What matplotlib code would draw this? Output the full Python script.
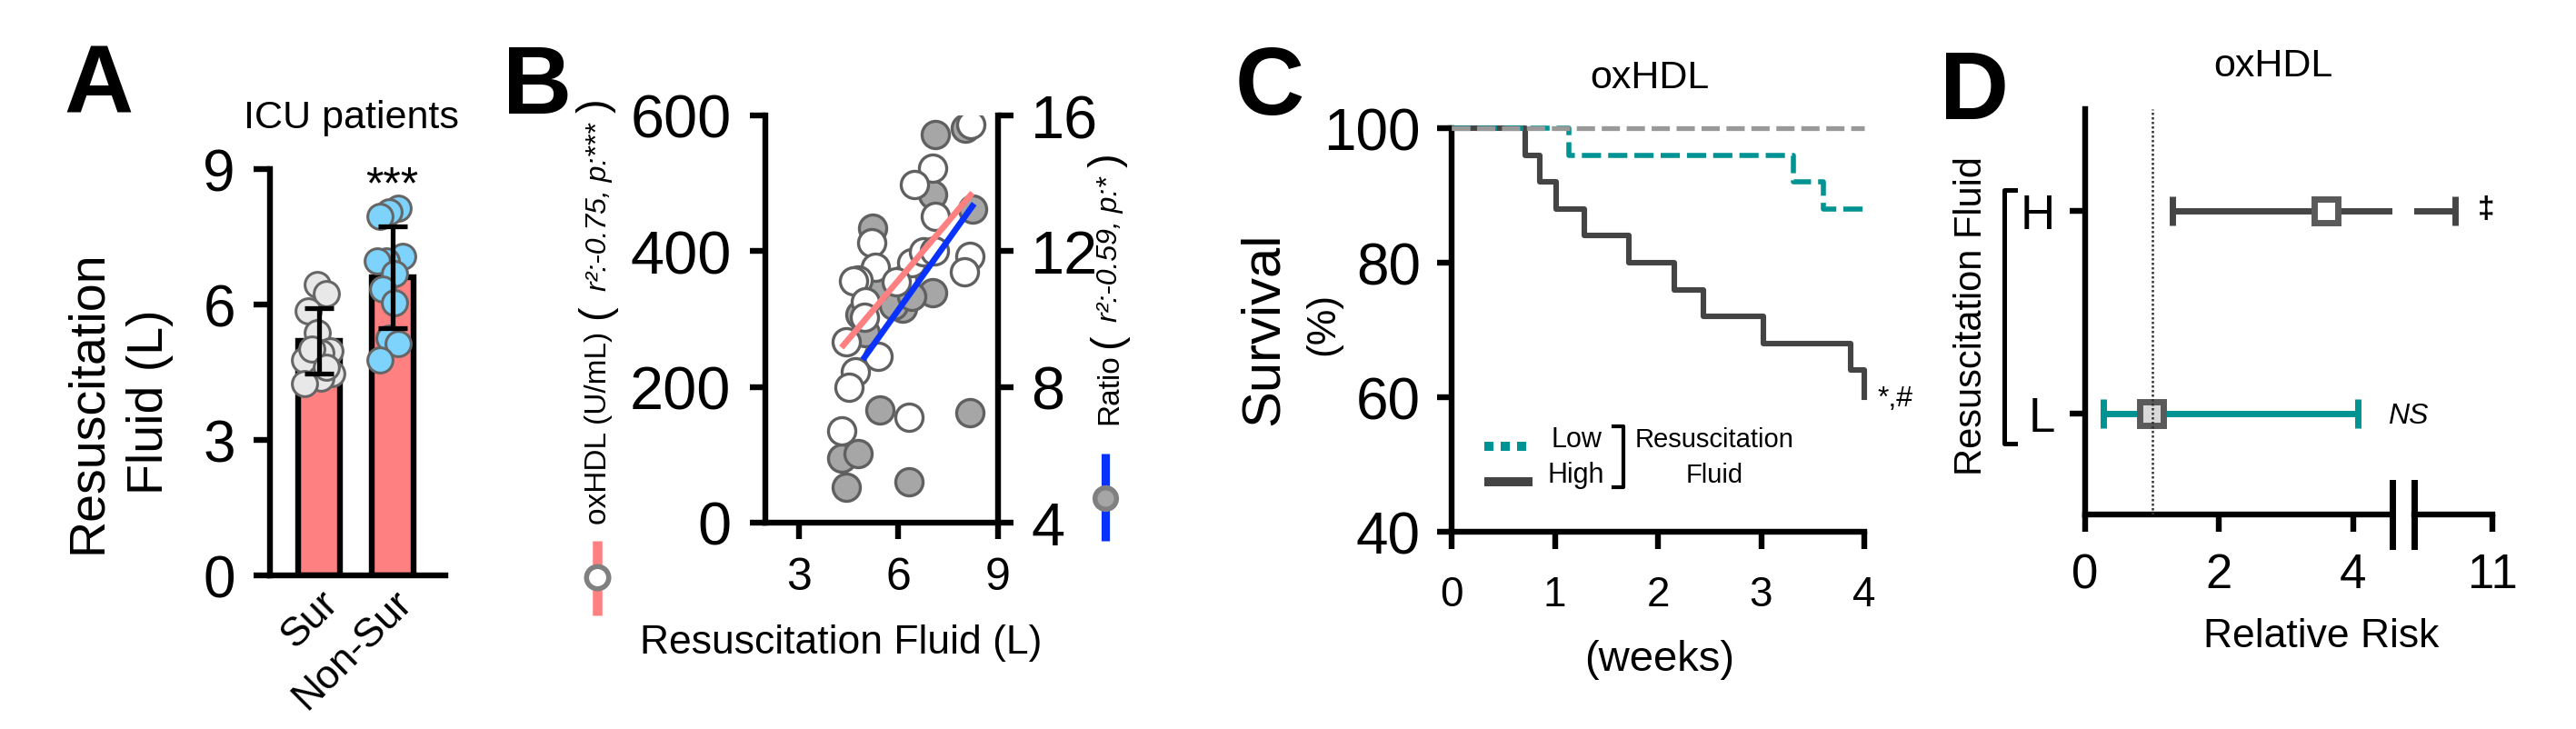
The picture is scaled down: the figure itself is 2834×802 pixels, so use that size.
import matplotlib
matplotlib.use('Agg')
import matplotlib.pyplot as plt
from matplotlib.lines import Line2D
import numpy as np

W, H, DPI = 2834, 803, 200
plt.rcParams['font.family'] = ['Liberation Sans', 'DejaVu Sans']
plt.rcParams['axes.linewidth'] = 2.3
plt.rcParams['xtick.major.width'] = 2.3
plt.rcParams['ytick.major.width'] = 2.3

# ---- A: resuscitation fluid in ICU patients ----
groups_a = ['Sur', 'Non-Sur']
fluid_mean = [5.19, 6.60]
fluid_sd = [0.73, 1.13]
sur_x = [-0.02, 0.10, -0.15, -0.02, 0.15, 0.03, -0.20, -0.10, 0.17, 0.03, -0.20, 0.10]
sur_y = [6.45, 6.25, 5.86, 5.38, 4.98, 4.94, 4.77, 5.02, 4.47, 4.37, 4.24, 4.62]
non_x = [1.08, 0.95, 0.83, 1.14, 0.91, 0.79, 1.02, 0.87, 1.02, 0.95, 1.08, 0.83]
non_y = [8.13, 8.06, 7.96, 7.06, 6.96, 6.96, 6.69, 6.35, 6.05, 5.25, 5.14, 4.77]

# ---- B: oxHDL and ratio vs fluid ----
ox_x = [8.19, 7.04, 6.49, 7.10, 5.20, 5.30, 4.79, 4.65, 6.12, 6.40, 6.77, 7.09,
        8.14, 8.00, 5.02, 4.97, 4.42, 5.39, 4.70, 4.52, 6.31, 4.29, 5.95]
ox_y = [586, 522, 498, 452, 412, 376, 358, 356, 358, 383, 399, 401,
        392, 370, 325, 303, 267, 245, 222, 200, 155, 135, 355]
rt_x = [8.02, 7.11, 7.04, 8.23, 5.22, 5.48, 7.04, 6.12, 5.85, 4.84, 5.02, 6.40,
        5.44, 8.14, 4.29, 4.79, 4.42, 6.33, 5.30]
rt_y = [15.63, 15.43, 13.67, 13.25, 12.69, 11.04, 10.77, 10.32, 10.41, 10.14, 9.61, 10.68,
        7.33, 7.24, 5.90, 6.04, 5.05, 5.21, 10.90]
ox_fit_x = [4.29, 8.23]
ox_fit_y = [258, 486]
rt_fit_x = [4.93, 8.28]
rt_fit_y = [8.80, 13.40]

# ---- C: survival ----
low_t = [0, 1.14, 3.31, 3.60, 4.0]
low_s = [100, 96, 92, 88, 88]
high_t = [0, 0.71, 0.855, 1.01, 1.29, 1.72, 2.16, 2.44, 3.02, 3.87, 4.0]
high_s = [100, 96, 92, 88, 84, 80, 76, 72, 68, 64, 60]
ref_t = [0, 4.0]
ref_s = [100, 100]

# ---- D: relative risk ----
rr_groups = ['H', 'L']
rr_est = [3.60, 0.99]
rr_lo = [1.30, 0.27]
rr_hi = [10.44, 4.07]

fig = plt.figure(figsize=(W / DPI, H / DPI), dpi=DPI)


def fx(px):
    return px / W


def fy(py):
    return 1 - py / H


def box(left, right, top, bottom):
    return fig.add_axes([fx(left), fy(bottom), (right - left) / W, (bottom - top) / H])


def ftext(px, py, s, **kw):
    return fig.text(fx(px), fy(py), s, **kw)


def fline(xs, ys, **kw):
    fig.add_artist(Line2D([fx(x) for x in xs], [fy(y) for y in ys],
                          transform=fig.transFigure, **kw))


def clean(ax):
    ax.spines['top'].set_visible(False)
    ax.spines['right'].set_visible(False)


# ================= A =================
axA = box(296.5, 490, 187, 634)
clean(axA)
xa = np.arange(len(groups_a))
axA.bar(xa, fluid_mean, width=0.58, color='#ff8080', edgecolor='black', linewidth=2.3, zorder=1)
axA.scatter(sur_x, sur_y, s=100, c='#e8e8e8', edgecolors='#666666', linewidths=1.1, zorder=2)
axA.scatter(non_x, non_y, s=100, c='#7dd3fc', edgecolors='#666666', linewidths=1.1, zorder=2)
axA.errorbar(xa, fluid_mean, yerr=fluid_sd, fmt='none', ecolor='black', elinewidth=1.9,
             capsize=5.8, capthick=1.9, zorder=3)
axA.set_xlim(-0.673, 1.716)
axA.set_ylim(0, 9)
axA.set_yticks([0, 3, 6, 9])
axA.set_xticks(xa)
axA.set_xticklabels(groups_a, rotation=45, ha='right', va='top',
                    rotation_mode='anchor', fontsize=16)
axA.tick_params(axis='x', length=0, pad=3)
axA.tick_params(axis='y', length=6.5, pad=7, labelsize=23)
ftext(386, 141, 'ICU patients', ha='center', va='baseline', fontsize=15.5)
ftext(431, 218, '***', ha='center', va='baseline', fontsize=18)
ftext(131, 442, 'Resuscitation\nFluid (L)', rotation=90, ha='center', va='center',
      multialignment='center', linespacing=1.4, fontsize=20)

# ================= B =================
axB = box(842, 1098, 128, 576)
axB2 = axB.twinx()
axB3 = axB.twinx()
axB2.set_zorder(1)
axB.set_zorder(2)
axB3.set_zorder(3)
for a in (axB, axB2, axB3):
    a.patch.set_visible(False)
axB.spines['top'].set_visible(False)
axB.spines['right'].set_visible(False)
for s in ('top', 'left', 'bottom'):
    axB2.spines[s].set_visible(False)
axB3.set_axis_off()

axB2.scatter(rt_x, rt_y, s=117, c='#a6a6a6', edgecolors='#606060', linewidths=1.2, zorder=2)
axB.scatter(ox_x, ox_y, s=117, c='white', edgecolors='#606060', linewidths=1.2, zorder=2)
axB.plot(ox_fit_x, ox_fit_y, color='#ff8080', lw=2.4, solid_capstyle='butt', zorder=4)
axB3.plot(rt_fit_x, rt_fit_y, color='#0a32ff', lw=2.4, solid_capstyle='butt')

axB.set_xlim(2, 9)
axB.set_ylim(0, 600)
axB2.set_ylim(4, 16)
axB3.set_ylim(4, 16)
axB.set_xticks([3, 6, 9])
axB.set_yticks([0, 200, 400, 600])
axB2.set_yticks([4, 8, 12, 16])
axB.tick_params(axis='x', length=6.5, pad=7, labelsize=18)
axB.tick_params(axis='y', length=6, pad=7.5, labelsize=24)
axB2.tick_params(axis='y', length=6, pad=7, labelsize=24, width=2.3)
axB2.spines['right'].set_linewidth(2.3)

ftext(925, 719, 'Resuscitation Fluid (L)', ha='center', va='baseline', fontsize=16)
# left axis label with key
ftext(659, 471, 'oxHDL (U/mL)', rotation=90, ha='center', va='center', fontsize=12)
ftext(656, 343, '(', rotation=90, ha='center', va='center', fontsize=17)
ftext(659, 228, 'r²:-0.75, p:***', rotation=90, ha='center', va='center',
      fontsize=11.5, style='italic')
ftext(656, 116, ')', rotation=90, ha='center', va='center', fontsize=17)
fline([657, 657], [596, 678], color='#ff8080', lw=3.8, solid_capstyle='butt')
fline([657], [636], marker='o', ms=8.8, mfc='white', mec='#808080', mew=2, ls='none')
# right axis label with key
ftext(1221, 428, 'Ratio', rotation=90, ha='center', va='center', fontsize=12)
ftext(1219, 375, '(', rotation=90, ha='center', va='center', fontsize=17)
ftext(1221, 274, 'r²:-0.59, p:*', rotation=90, ha='center', va='center',
      fontsize=11.5, style='italic')
ftext(1219, 176, ')', rotation=90, ha='center', va='center', fontsize=17)
fline([1216, 1216], [500, 596], color='#0a32ff', lw=3.3, solid_capstyle='butt')
fline([1216], [549], marker='o', ms=8.5, mfc='#a6a6a6', mec='#808080', mew=2, ls='none')

# ================= C =================
axC = box(1597, 2051, 142, 586)
clean(axC)
dash = (0, (3.8, 1.4))
axC.step(high_t, high_s, where='post', color='#444444', lw=2.2, zorder=2, clip_on=False)
axC.step(low_t, low_s, where='post', color='#009393', lw=2.0, ls=dash, zorder=3, clip_on=False)
axC.plot(ref_t, ref_s, color='#999999', lw=1.9, ls=dash, zorder=4, clip_on=False)
axC.set_xlim(0, 4)
axC.set_ylim(40, 100)
axC.set_xticks([0, 1, 2, 3, 4])
axC.set_yticks([40, 60, 80, 100])
axC.tick_params(axis='x', length=7, pad=10, labelsize=16.5)
axC.tick_params(axis='y', length=5.8, pad=6.5, labelsize=23)
ftext(1815, 97, 'oxHDL', ha='center', va='baseline', fontsize=15.5)
ftext(1390, 362, 'Survival', rotation=90, ha='center', va='center', fontsize=21.5)
ftext(1456, 356, '(%)', rotation=90, ha='center', va='center', fontsize=16)
ftext(1826, 726, '(weeks)', ha='center', va='center', fontsize=17)
ftext(2066, 447, '*,#', ha='left', va='baseline', fontsize=11.5)
# legend
fline([1633, 1680], [492, 492], color='#009393', lw=3.6, ls=(0, (1, 0.8)))
fline([1633, 1686], [531, 531], color='#444444', lw=3.6, solid_capstyle='butt')
ftext(1707, 492, 'Low', ha='left', va='baseline', fontsize=11)
ftext(1703, 531, 'High', ha='left', va='baseline', fontsize=11)
fline([1775, 1786, 1786, 1775], [470, 470, 537, 537], color='black', lw=1.5)
ftext(1886, 492, 'Resuscitation', ha='center', va='baseline', fontsize=10.5)
ftext(1886, 531, 'Fluid', ha='center', va='baseline', fontsize=10.5)

# ================= D =================
axDL = box(2294, 2632, 121, 567)
axDR = box(2656, 2742, 121, 567)
clean(axDL)
for s in ('top', 'right', 'left'):
    axDR.spines[s].set_visible(False)
axDR.patch.set_visible(False)
ypos = np.arange(len(rr_groups))[::-1] + 0.5
rr_colors = ['#454545', '#009393']
rr_faces = ['white', '#d9d9d9']
for ax in (axDL, axDR):
    for i in range(len(rr_groups)):
        ax.errorbar([rr_est[i]], [ypos[i]],
                    xerr=[[rr_est[i] - rr_lo[i]], [rr_hi[i] - rr_est[i]]],
                    fmt='s', ms=9.4, mfc=rr_faces[i], mec='#5a5a5a', mew=2.5,
                    ecolor=rr_colors[i], elinewidth=2.5, capsize=5.8, capthick=2.2, zorder=3)
    ax.set_ylim(0, 2)
axDL.axvline(1, color='#333333', lw=0.9, ls=(0, (1, 1)), zorder=5)
axDL.set_xlim(0, 4.59)
axDR.set_xlim(9.83, 11)
axDL.set_xticks([0, 2, 4])
axDR.set_xticks([11])
axDR.set_yticks([])
axDL.set_yticks(ypos)
axDL.set_yticklabels(rr_groups)
axDL.tick_params(axis='x', length=6.8, pad=8, labelsize=19)
axDR.tick_params(axis='x', length=6.8, pad=8, labelsize=19)
axDL.tick_params(axis='y', length=6, pad=6, labelsize=19)
fline([2632, 2632], [532, 602], color='black', lw=2.5)
fline([2656, 2656], [532, 602], color='black', lw=2.5)
fline([2217, 2205, 2205, 2217], [210, 210, 489, 489], color='black', lw=1.8)
ftext(2501, 84, 'oxHDL', ha='center', va='baseline', fontsize=15.5)
ftext(2554, 712, 'Relative Risk', ha='center', va='baseline', fontsize=16)
ftext(2169, 348, 'Resuscitation Fluid', rotation=90, ha='center', va='center', fontsize=15)
ftext(2735, 231, '‡', ha='center', va='center', fontsize=12, fontweight='bold')
ftext(2627, 466, 'NS', ha='left', va='baseline', fontsize=11.5, style='italic')

# panel letters
for letter, px, py in [('A', 70, 125), ('B', 553, 125), ('C', 1359, 126), ('D', 2134, 131)]:
    ftext(px, py, letter, ha='left', va='baseline', fontsize=38, fontweight='bold')

fig.savefig('out.png', dpi=DPI, facecolor='white')
